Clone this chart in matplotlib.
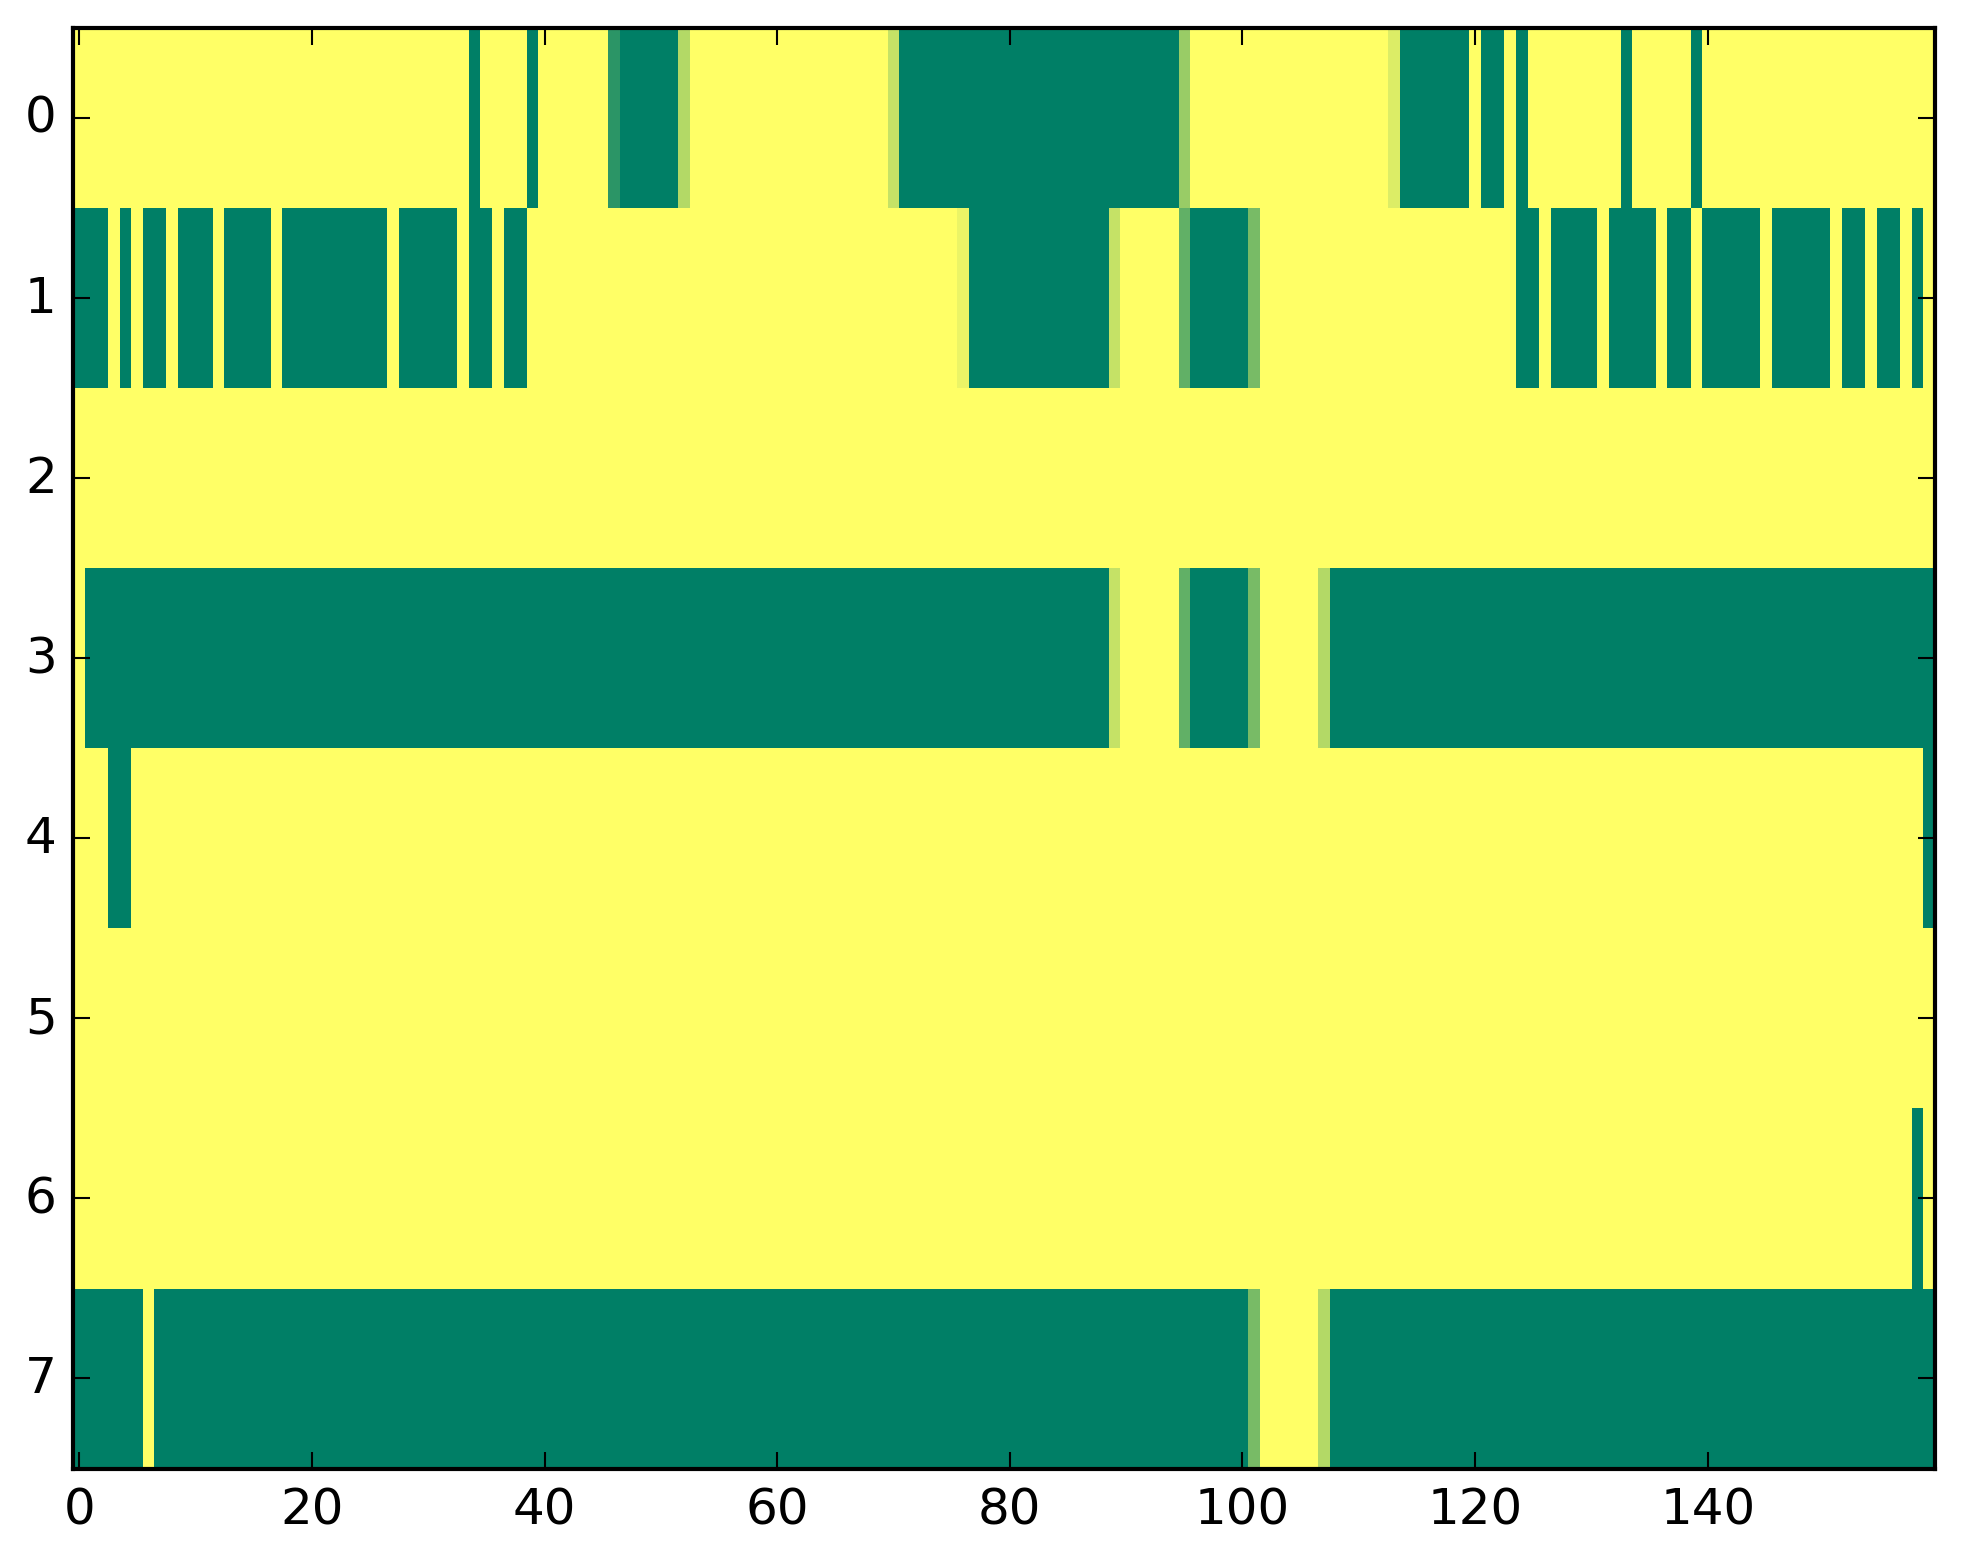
import matplotlib
matplotlib.use("Agg")
import matplotlib.pyplot as plt
import numpy as np

N_ROWS = 8
N_COLS = 160

# green (value 0) runs per row, inclusive column ranges; everything else is 1
row0_green = [(34, 34), (39, 39), (47, 51), (71, 94), (114, 119), (121, 122), (124, 124), (133, 133), (139, 139)]
row1_green = [(0, 2), (4, 4), (6, 7), (9, 11), (13, 16), (18, 26), (28, 32), (34, 35), (37, 38),
              (77, 88), (96, 100), (124, 125), (127, 130), (132, 135), (137, 138), (140, 144),
              (146, 150), (152, 153), (155, 156), (158, 158)]
row2_green = []
row3_green = [(1, 88), (96, 100), (108, 159)]
row4_green = [(3, 4), (159, 159)]
row5_green = []
row6_green = [(158, 158)]
row7_green = [(0, 5), (7, 100), (108, 159)]

# in-between cells (column: value)
row0_partial = {46: 0.17, 52: 0.70, 70: 0.77, 95: 0.60, 113: 0.86}
row1_partial = {76: 0.92, 89: 0.77, 95: 0.38, 101: 0.47}
row3_partial = {89: 0.77, 95: 0.38, 101: 0.47, 107: 0.70}
row7_partial = {101: 0.47, 107: 0.70}

GREEN_RUNS = [row0_green, row1_green, row2_green, row3_green,
              row4_green, row5_green, row6_green, row7_green]
PARTIALS = {0: row0_partial, 1: row1_partial, 3: row3_partial, 7: row7_partial}


def build_matrix():
    data = np.ones((N_ROWS, N_COLS))
    for r, runs in enumerate(GREEN_RUNS):
        for a, b in runs:
            data[r, a:b + 1] = 0.0
    for r, cells in PARTIALS.items():
        for c, v in cells.items():
            data[r, c] = v
    return data


def main():
    plt.style.use("classic")
    data = build_matrix()

    fig = plt.figure(figsize=(1963 / 300, 1564 / 300), dpi=300)
    ax = fig.add_axes([0.0374, 0.0604, 0.9481, 0.9211])
    ax.imshow(data, cmap="summer", vmin=0, vmax=1, aspect="auto", interpolation="nearest")
    ax.set_xticks([0, 20, 40, 60, 80, 100, 120, 140])
    ax.set_yticks(range(N_ROWS))
    ax.set_xlim(-0.5, N_COLS - 0.5)
    ax.set_ylim(N_ROWS - 0.5, -0.5)

    fig.savefig("out.png", dpi=300)
    plt.close(fig)


if __name__ == "__main__":
    main()
